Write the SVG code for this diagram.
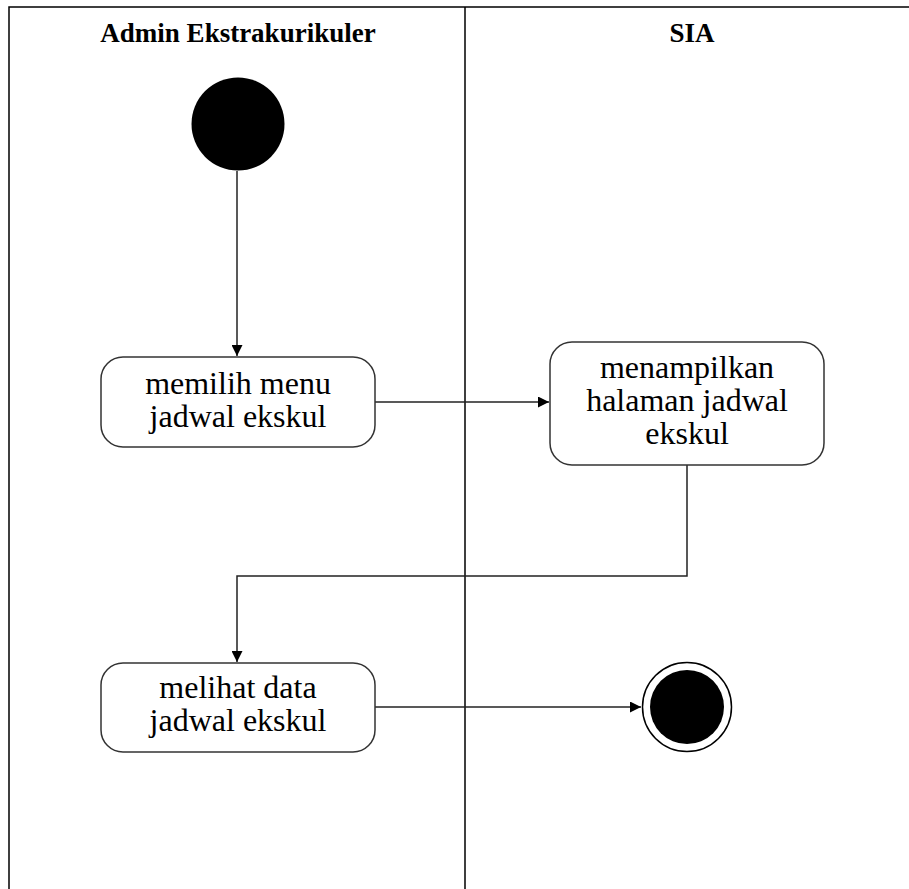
<svg xmlns="http://www.w3.org/2000/svg" width="909" height="889" viewBox="0 0 909 889">
<defs>
<style>
.lane{stroke:#000;stroke-width:1.5;fill:none}
.hdr{font-family:"Liberation Serif","Times New Roman",serif;font-weight:bold;font-size:27px;fill:#000;text-anchor:middle}
.box{fill:#fff;stroke:#333;stroke-width:1.5}
.lbl{font-family:"Liberation Serif","Times New Roman",serif;font-size:32px;fill:#000;text-anchor:middle}
.conn{stroke:#222;stroke-width:1.5;fill:none}
</style>
<marker id="arr" viewBox="0 0 10 10" refX="10" refY="5" markerWidth="11" markerHeight="11" markerUnits="userSpaceOnUse" orient="auto">
<path d="M0,0 L10,5 L0,10 z" fill="#000"/>
</marker>
</defs>
<rect width="909" height="889" fill="#fff"/>
<g id="lanes">
<path class="lane" d="M9,889 V7 H909 M465,7 V889"/>
<text class="hdr" x="238" y="42">Admin Ekstrakurikuler</text>
<text class="hdr" x="692" y="42">SIA</text>
</g>
<g id="connectors">
<path class="conn" d="M237,171 V356" marker-end="url(#arr)"/>
<path class="conn" d="M375,402 H549" marker-end="url(#arr)"/>
<path class="conn" d="M687,465 V576 H237 V662" marker-end="url(#arr)"/>
<path class="conn" d="M375,707 H641" marker-end="url(#arr)"/>
</g>
<g id="start">
<circle cx="238" cy="124" r="46.5" fill="#000"/>
</g>
<g id="memilih">
<rect class="box" x="101" y="357" width="274" height="90" rx="22"/>
<text class="lbl" x="238" y="394">memilih menu</text>
<text class="lbl" x="238" y="427">jadwal ekskul</text>
</g>
<g id="menampilkan">
<rect class="box" x="550" y="342" width="274" height="123" rx="22"/>
<text class="lbl" x="687" y="378">menampilkan</text>
<text class="lbl" x="687" y="411">halaman jadwal</text>
<text class="lbl" x="687" y="444">ekskul</text>
</g>
<g id="melihat">
<rect class="box" x="101" y="663" width="274" height="89" rx="22"/>
<text class="lbl" x="238" y="698">melihat data</text>
<text class="lbl" x="238" y="731">jadwal ekskul</text>
</g>
<g id="end">
<circle cx="687" cy="707" r="44.5" fill="#fff" stroke="#000" stroke-width="1.5"/>
<circle cx="687" cy="707" r="37" fill="#000"/>
</g>
</svg>
